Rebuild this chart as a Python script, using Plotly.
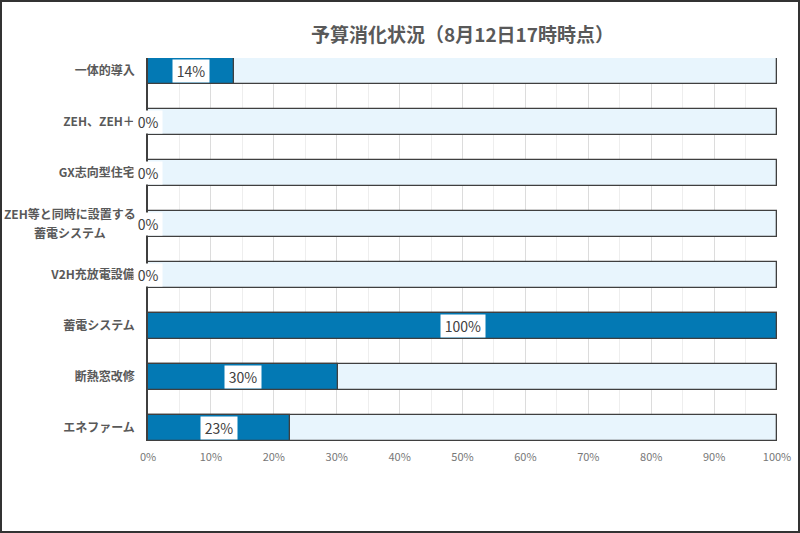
import plotly.graph_objects as go

# ========== データ ==========
CATEGORIES = ['一体的導入', 'ZEH、ZEH＋', 'GX志向型住宅', 'ZEH等と同時に設置する<br>蓄電システム',
              'V2H充放電設備', '蓄電システム', '断熱窓改修', 'エネファーム']
VALUES = [13.6, 0, 0, 0, 0, 100, 30.2, 22.6]
LABELS = ['14%', '0%', '0%', '0%', '0%', '100%', '30%', '23%']
FULL = [100] * len(CATEGORIES)
X_TICKS = list(range(0, 101, 10))

FONT = 'Noto Sans CJK JP'
DARK_BLUE = '#0379B4'
LIGHT_BLUE = '#E8F5FD'
EDGE = '#3F3F3F'

W, H = 800, 533
L, R, T, B = 148, 23, 58, 92
PW, PH = W - L - R, H - T - B

ypos = list(range(len(CATEGORIES)))

fig = go.Figure()
fig.add_trace(go.Bar(
    y=ypos, x=FULL, orientation='h', width=0.5,
    marker=dict(color=LIGHT_BLUE, line=dict(color=EDGE, width=1.3)),
    hoverinfo='skip',
))
fig.add_trace(go.Bar(
    y=ypos, x=VALUES, orientation='h', width=0.5,
    marker=dict(color=DARK_BLUE, line=dict(color=EDGE, width=1.3)),
))

# 値ラベル（白背景、左右に細いスペース）
for i, (v, lab) in enumerate(zip(VALUES, LABELS)):
    fig.add_annotation(
        x=v / 2, y=i, text='\u2009' + lab + '\u2009', showarrow=False,
        font=dict(family=FONT, size=14, color='#404040'),
        bgcolor='white', borderpad=1,
    )

# 2行のカテゴリ名は中央揃えで別描画（行間を広めに）
tick_text = [c if '<br>' not in c else '' for c in CATEGORIES]
for i, c in enumerate(CATEGORIES):
    if '<br>' in c:
        for dy, line in zip([-0.2, 0.16], c.split('<br>')):
            fig.add_annotation(
                x=-(L - 70) / PW, xref='paper', y=i + dy, yref='y', text=line,
                showarrow=False, xanchor='center',
                font=dict(family=FONT, size=12, color='#595959', weight='bold'),
            )

# 外枠
fig.add_shape(
    type='rect', xref='paper', yref='paper',
    x0=(1 - L) / PW, x1=(W - 1 - L) / PW,
    y0=-(H - 1 - T - PH) / PH, y1=(PH + T - 1) / PH,
    line=dict(color='#333333', width=2), fillcolor='rgba(0,0,0,0)',
)

fig.update_layout(
    width=W, height=H,
    margin=dict(l=L, r=R, t=T, b=B, pad=0),
    barmode='overlay',
    bargap=0,
    showlegend=False,
    plot_bgcolor='white',
    paper_bgcolor='white',
    font=dict(family=FONT),
    title=dict(
        text='予算消化状況（8月12日17時時点）',
        x=(L + PW / 2) / W, xanchor='center', y=1 - 35 / H, yanchor='middle',
        font=dict(family=FONT, size=19, color='#595959', weight='bold'),
    ),
)
fig.update_xaxes(
    range=[0, 100], tickvals=X_TICKS, ticktext=[f'{t}%' for t in X_TICKS],
    showgrid=True, gridcolor='#DCDCDC', gridwidth=1,
    minor=dict(dtick=5, showgrid=True, gridcolor='#EEEEEE'),
    zeroline=False, showline=False, ticks='', ticklabelstandoff=8,
    tickfont=dict(family=FONT, size=11, color='#777777'),
    automargin=False, fixedrange=True,
)
fig.update_yaxes(
    range=[len(CATEGORIES) - 0.75, -0.25],
    tickvals=ypos, ticktext=tick_text,
    showgrid=False, zeroline=False,
    showline=True, linecolor=EDGE, linewidth=1.5,
    ticks='', ticklabelstandoff=9,
    tickfont=dict(family=FONT, size=12, color='#595959', weight='bold'),
    automargin=False, fixedrange=True,
)

fig.write_html('out.html', config={'displayModeBar': False},
               post_script="document.body.style.margin='0';")
